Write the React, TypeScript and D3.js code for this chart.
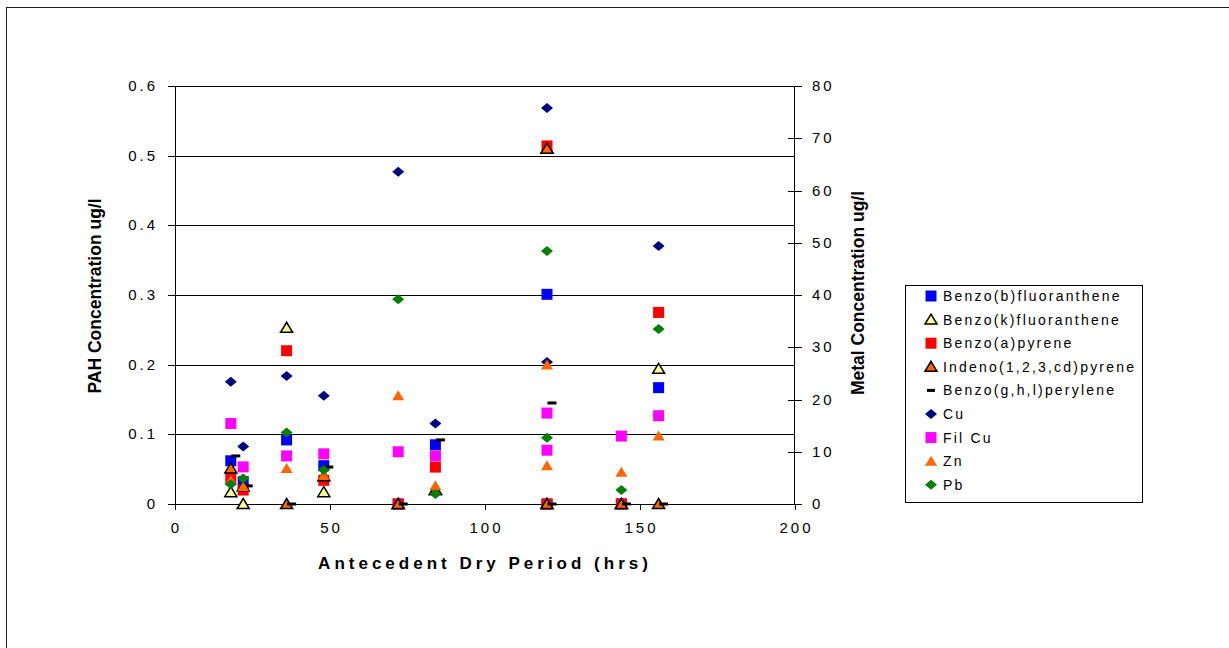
import * as d3 from 'd3'

// sample antecedent dry periods (hrs)
const hrs = [18, 22, 36, 48, 72, 84, 120, 120, 144, 156]

// PAH concentrations ug/l (left axis)
const benzoB = [0.062, 0.032, 0.092, 0.055, 0, 0.085, 0.301, 0, 0, 0.167]
const benzoK = [0.017, 0, 0.253, 0.017, 0, 0.02, 0.51, 0, 0, 0.194]
const benzoA = [0.037, 0.02, 0.22, 0.034, 0, 0.053, 0.514, 0, 0, 0.275]
const indeno = [0.051, 0.025, 0, 0.04, 0, 0.02, 0.51, 0, 0, 0]
const benzoGHI = [0.069, 0.026, 0, 0.053, 0, 0.092, 0.145, 0, 0, 0]

// metal concentrations ug/l (right axis)
const cu = [23.4, 11.0, 24.5, 20.7, 63.6, 15.4, 75.8, 27.2, null, 49.4]
const filCu = [15.4, 7.1, 9.2, 9.6, 10.0, 9.2, 17.4, 10.3, 13.0, 16.9]
const zn = [4.5, 3.3, 6.8, 5.5, 20.7, 3.5, 26.6, 7.3, 6.1, 13.0]
const pb = [3.8, 4.9, 13.7, 6.5, 39.2, 1.9, 48.4, 12.7, 2.7, 33.5]

const xTicks = [0, 50, 100, 150, 200]
const leftTicks = [0, 0.1, 0.2, 0.3, 0.4, 0.5, 0.6]
const rightTicks = [0, 10, 20, 30, 40, 50, 60, 70, 80]

type Shape = 'square' | 'triangle' | 'dash' | 'diamond'

const series = [
  { name: 'Benzo(b)fluoranthene', values: benzoB, axis: 'L', shape: 'square', fill: '#0000FF', stroke: 'none' },
  { name: 'Benzo(k)fluoranthene', values: benzoK, axis: 'L', shape: 'triangle', fill: '#FFFF99', stroke: '#000' },
  { name: 'Benzo(a)pyrene', values: benzoA, axis: 'L', shape: 'square', fill: '#FF0000', stroke: 'none' },
  { name: 'Indeno(1,2,3,cd)pyrene', values: indeno, axis: 'L', shape: 'triangle', fill: '#FF6600', stroke: '#000' },
  { name: 'Benzo(g,h,l)perylene', values: benzoGHI, axis: 'L', shape: 'dash', fill: '#000', stroke: 'none' },
  { name: 'Cu', values: cu, axis: 'R', shape: 'diamond', fill: '#000080', stroke: 'none' },
  { name: 'Fil Cu', values: filCu, axis: 'R', shape: 'square', fill: '#FF00FF', stroke: 'none' },
  { name: 'Zn', values: zn, axis: 'R', shape: 'triangle', fill: '#FF6600', stroke: 'none' },
  { name: 'Pb', values: pb, axis: 'R', shape: 'diamond', fill: '#008000', stroke: 'none' },
]

const font = '"Liberation Sans", Arial, sans-serif'

const Marker = ({ x, y, shape, fill, stroke, legend }: any) => {
  if (shape === 'square') return <rect x={x - 5.5} y={y - 5.5} width={11} height={11} fill={fill} />
  if (shape === 'diamond') return <path d={`M${x},${y - 5} L${x + 6},${y} L${x},${y + 5} L${x - 6},${y} Z`} fill={fill} />
  if (shape === 'triangle')
    return (
      <path
        d={`M${x},${y - 5.5} L${x + 6},${y + 4.5} L${x - 6},${y + 4.5} Z`}
        fill={fill}
        stroke={stroke}
        strokeWidth={stroke === 'none' ? 0 : 1.5}
        strokeLinejoin="miter"
      />
    )
  // dash
  const dx = legend ? -4 : 0.5
  return <rect x={x + dx} y={y - 1.5} width={legend ? 8 : 9} height={3} fill={fill} />
}

const App = () => {
  const x = d3.scaleLinear().domain([0, 200]).range([175, 795])
  const yL = d3.scaleLinear().domain([0, 0.6]).range([504, 86])
  const yR = d3.scaleLinear().domain([0, 80]).range([504, 86])

  const legendTop = 296
  const legendStep = 23.6

  return (
    <svg width={1229} height={648} style={{ position: 'absolute', left: 0, top: 0, background: '#fff' }} fontFamily={font}>
      <rect x={6.5} y={7.5} width={1300} height={700} fill="none" stroke="#222" strokeWidth={1} />

      {/* gridlines */}
      {leftTicks.slice(1).map((t) => (
        <line key={t} x1={x(0)} x2={x(200)} y1={Math.round(yL(t)) + 0.5} y2={Math.round(yL(t)) + 0.5} stroke="#000" strokeWidth={1} />
      ))}

      {/* left axis */}
      <line x1={175.5} x2={175.5} y1={86} y2={504.5} stroke="#000" />
      {leftTicks.map((t) => (
        <g key={t}>
          <line x1={168} x2={175} y1={Math.round(yL(t)) + 0.5} y2={Math.round(yL(t)) + 0.5} stroke="#000" />
          <text x={158} y={yL(t) + 5} textAnchor="end" fontSize={15} letterSpacing={3} fill="#000">
            {d3.format('.1f')(t).replace(/^0\.0$/, '0')}
          </text>
        </g>
      ))}

      {/* right axis */}
      <line x1={794.5} x2={794.5} y1={86} y2={504.5} stroke="#000" />
      {rightTicks.map((t) => (
        <g key={t}>
          <line x1={788} x2={802} y1={Math.round(yR(t)) + 0.5} y2={Math.round(yR(t)) + 0.5} stroke="#000" />
          <text x={812} y={yR(t) + 5} textAnchor="start" fontSize={15} letterSpacing={3} fill="#000">
            {t}
          </text>
        </g>
      ))}

      {/* bottom axis */}
      <line x1={175} x2={795} y1={504.5} y2={504.5} stroke="#000" />
      {xTicks.map((t) => (
        <g key={t}>
          <line x1={Math.round(x(t)) + 0.5} x2={Math.round(x(t)) + 0.5} y1={504} y2={510} stroke="#000" />
          <text x={x(t) + 1.5} y={533} textAnchor="middle" fontSize={15} letterSpacing={3} fill="#000">
            {t}
          </text>
        </g>
      ))}

      {/* axis titles */}
      <text x={485} y={569} textAnchor="middle" fontSize={17} fontWeight="bold" letterSpacing={4}>
        Antecedent Dry Period (hrs)
      </text>
      <text transform="translate(101,296) rotate(-90)" textAnchor="middle" fontSize={17.5} fontWeight="bold">
        PAH Concentration ug/l
      </text>
      <text transform="translate(864,293) rotate(-90)" textAnchor="middle" fontSize={17.5} fontWeight="bold">
        Metal Concentration ug/l
      </text>

      {/* points */}
      {series.map((s) => (
        <g key={s.name}>
          {s.values.map((v, i) =>
            v === null ? null : (
              <Marker
                key={i}
                x={x(hrs[i])}
                y={s.axis === 'L' ? yL(v) : yR(v)}
                shape={s.shape as Shape}
                fill={s.fill}
                stroke={s.stroke}
              />
            )
          )}
        </g>
      ))}

      {/* legend */}
      <rect x={905.5} y={285.5} width={237} height={217} fill="#fff" stroke="#000" />
      {series.map((s, i) => (
        <g key={s.name}>
          <Marker x={931} y={legendTop + i * legendStep} shape={s.shape as Shape} fill={s.fill} stroke={s.stroke} legend />
          <text x={943} y={legendTop + i * legendStep + 5} fontSize={14} letterSpacing={2.2} fill="#000">
            {s.name}
          </text>
        </g>
      ))}
    </svg>
  )
}

export default App
